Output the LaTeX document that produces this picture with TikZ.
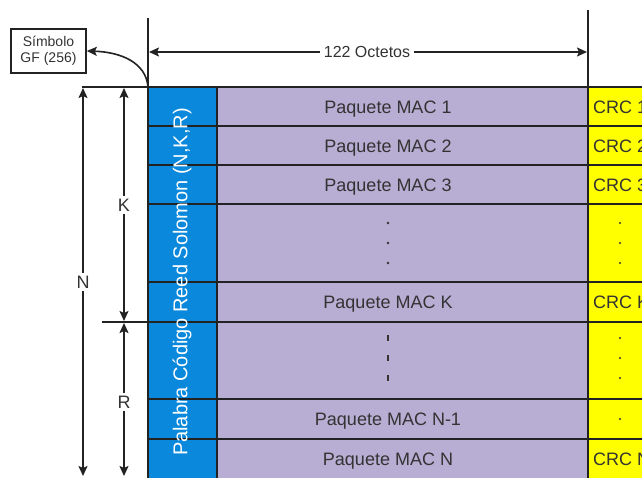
\documentclass[tikz,border=0pt]{standalone}
\usepackage{fontspec}
\setmainfont{Liberation Sans}
\usetikzlibrary{arrows.meta}
\definecolor{lineC}{HTML}{222222}
\definecolor{txtC}{HTML}{333333}
\definecolor{blueC}{HTML}{0A88DC}
\definecolor{purpC}{HTML}{B8ADD3}
\definecolor{yelC}{HTML}{FFFF00}
\tikzset{
  cell/.style={draw=lineC, line width=1.6pt, rectangle, inner sep=0pt, outer sep=0pt, anchor=north west},
  ln/.style={draw=lineC, line width=1.6pt},
  tipst/.style={-{Stealth[length=10pt,width=9pt,inset=2pt]}},
  arr/.style={draw=lineC, line width=1.6pt, tipst},
  mac/.style={text=txtC, font=\fontsize{18}{20}\selectfont, inner sep=0pt, anchor=base},
  crc/.style={text=txtC, font=\fontsize{18}{20}\selectfont, inner sep=0pt, anchor=base west},
  lab/.style={text=txtC, font=\fontsize{18}{20}\selectfont, inner sep=3pt},
  dotm/.style={fill=txtC}
}
\begin{document}
\begin{tikzpicture}[x=1pt,y=1pt]
\useasboundingbox (0,0) rectangle (642,-477);
\clip (0,0) rectangle (642,-477);
% cells
\foreach \i/\t/\h in {1/87/39, 2/126/39, 3/165/39, 4/204/78, 5/282/40, 6/322/77, 7/399/40, 8/439/60}{
  \node[cell, fill=blueC, minimum width=69pt, minimum height=\h pt] (b\i) at (148,-\t) {};
  \node[cell, fill=purpC, minimum width=371pt, minimum height=\h pt] (p\i) at (217,-\t) {};
  \node[cell, fill=yelC, minimum width=80pt, minimum height=\h pt] (y\i) at (588,-\t) {};
}
% extra structure lines
\draw[ln] (148,-18) -- (148,-87);
\draw[ln] (588,-10) -- (588,-87);
\draw[ln] (82,-87) -- (148,-87);
\draw[ln] (102,-322) -- (148,-322);
% MAC texts
\node[mac] (m1) at ([xshift=-14.5pt,yshift=-6.5pt]p1.center) {Paquete MAC 1};
\node[mac] (m2) at ([xshift=-14.5pt,yshift=-6.5pt]p2.center) {Paquete MAC 2};
\node[mac] (m3) at ([xshift=-14.5pt,yshift=-6.5pt]p3.center) {Paquete MAC 3};
\node[mac] (mK) at ([xshift=-14.5pt,yshift=-6.5pt]p5.center) {Paquete MAC K};
\node[mac] (mN1) at ([xshift=-14.5pt,yshift=-6.5pt]p7.center) {Paquete MAC N-1};
\node[mac] (mN) at (388,-465) {Paquete MAC N};
% CRC texts
\node[crc] (c1) at ([xshift=5pt,yshift=-6.5pt]y1.west) {CRC 1};
\node[crc] (c2) at ([xshift=5pt,yshift=-6.5pt]y2.west) {CRC 2};
\node[crc] (c3) at ([xshift=5pt,yshift=-6.5pt]y3.west) {CRC 3};
\node[crc] (cK) at ([xshift=5pt,yshift=-6.5pt]y5.west) {CRC K};
\node[crc] (cN) at (593,-465) {CRC N};
% dots
\foreach \yy in {223,243,263}{\fill[dotm] (388,-\yy) circle (1.3pt); \fill[dotm] (620,-\yy) circle (1.2pt);}
\foreach \yy in {338,358,378}{\fill[dotm] (387,-\yy-3) rectangle (389.4,-\yy+3); \fill[dotm] (620,-\yy) circle (1.2pt);}
\fill[dotm] (620,-419) circle (1.2pt);
% blue column text
\node[rotate=90, text=white, font=\fontsize{20}{24}\selectfont, inner sep=0pt] (pal) at (182,-282) {Palabra Código Reed Solomon (N,K,R)};
% dimension arrows
\coordinate (ntop) at (83,-88);
\coordinate (nbot) at (83,-476);
\node[lab] (nL) at (83,-282) {N};
\draw[arr] (nL) -- (ntop);
\draw[arr] (nL) -- (nbot);
\coordinate (ktop) at (124,-88);
\coordinate (kbot) at (124,-321);
\node[lab] (kL) at (124,-205) {K};
\draw[arr] (kL) -- (ktop);
\draw[arr] (kL) -- (kbot);
\coordinate (rtop) at (124,-323);
\coordinate (rbot) at (124,-476);
\node[lab] (rL) at (124,-402) {R};
\draw[arr] (rL) -- (rtop);
\draw[arr] (rL) -- (rbot);
% octetos
\coordinate (oL) at (149,-52);
\coordinate (oR) at (587,-52);
\node[lab, font=\fontsize{16}{18}\selectfont, inner sep=4pt] (oct) at (367,-52) {122 Octetos};
\draw[arr] (oct) -- (oL);
\draw[arr] (oct) -- (oR);
% symbol box
\node[draw=lineC, line width=1.6pt, minimum width=75pt, minimum height=44pt, align=center, text=txtC, font=\fontsize{14}{16}\selectfont, inner sep=2pt] (sym) at (48.5,-51) {Símbolo\\GF (256)};
\coordinate (corner) at (148,-87);
\draw[arr] (corner) .. controls (146,-62) and (120,-52) .. (sym.east);
\end{tikzpicture}
\end{document}
